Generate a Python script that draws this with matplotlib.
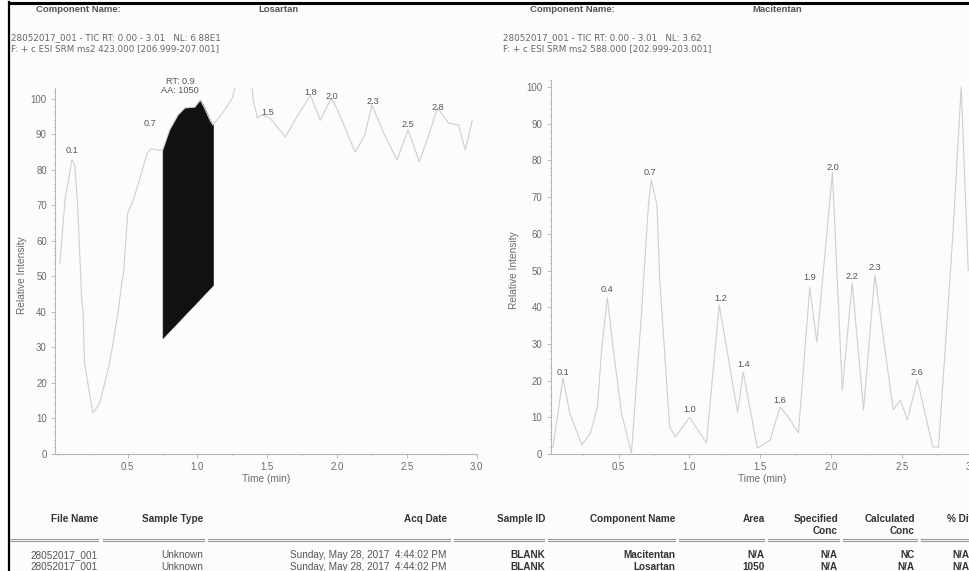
import numpy as np
import matplotlib
matplotlib.use('Agg')
import matplotlib.pyplot as plt
from matplotlib.ticker import MultipleLocator, FixedLocator

plt.rcParams['font.family'] = ['Liberation Sans', 'DejaVu Sans']

# ---------------- data ----------------
# Losartan trace (time min, relative intensity)
los_t = [0.014, 0.05, 0.10, 0.12, 0.14, 0.17, 0.18, 0.19, 0.25, 0.30, 0.37, 0.43, 0.46, 0.47,
         0.50, 0.54, 0.59, 0.64, 0.67, 0.71, 0.75, 0.80, 0.86, 0.91, 0.98, 1.02, 1.05, 1.09,
         1.11, 1.18, 1.25, 1.30, 1.38, 1.40, 1.43, 1.46, 1.52, 1.63, 1.72, 1.81, 1.88, 1.96,
         2.02, 2.13, 2.20, 2.25, 2.34, 2.43, 2.51, 2.59, 2.67, 2.72, 2.80, 2.87, 2.92, 2.97]
los_i = [53.8, 71.5, 82.8, 81.4, 70.7, 43.4, 39.7, 25.6, 11.5, 14.4, 25.6, 39.7, 49.0, 51.0,
         67.9, 71.5, 78.0, 84.8, 86.0, 85.6, 85.6, 91.3, 95.5, 97.5, 97.7, 99.7, 97.5, 94.0,
         92.7, 96.0, 100.3, 108.0, 108.0, 99.7, 94.6, 95.5, 94.6, 89.3, 95.5, 101.0, 94.0, 100.3,
         95.5, 85.0, 89.9, 98.3, 89.9, 82.8, 91.3, 82.3, 91.3, 97.5, 93.2, 92.7, 85.6, 94.0]
# integrated peak (start/end time, baseline intensity)
los_peak_t = [0.75, 1.11]
los_peak_base = [32.7, 47.6]
los_peak_rt = "0.9"
los_peak_area = "1050"
los_lab = ["0.1", "0.7", "1.5", "1.8", "2.0", "2.3", "2.5", "2.8"]
los_lab_t = [0.10, 0.66, 1.50, 1.81, 1.96, 2.26, 2.51, 2.72]
los_lab_i = [85.6, 93.2, 96.3, 101.7, 100.6, 99.2, 92.7, 97.7]

# Macitentan trace
mac_t = [0.035, 0.07, 0.106, 0.155, 0.24, 0.30, 0.35, 0.38, 0.42, 0.46, 0.52, 0.59, 0.66, 0.71,
         0.73, 0.77, 0.79, 0.86, 0.90, 1.00, 1.12, 1.21, 1.34, 1.38, 1.48, 1.57, 1.64, 1.70,
         1.77, 1.85, 1.90, 2.01, 2.08, 2.15, 2.23, 2.31, 2.44, 2.49, 2.54, 2.61, 2.72, 2.76,
         2.86, 2.92, 2.97]
mac_i = [1.9, 11.0, 20.7, 11.0, 2.5, 5.7, 12.8, 29.0, 42.5, 29.0, 11.0, 0.3, 38.0, 68.0,
         74.7, 68.0, 47.4, 7.4, 4.6, 10.0, 3.0, 40.6, 11.4, 22.3, 1.6, 3.8, 12.8, 10.0,
         5.7, 45.5, 30.5, 76.6, 17.4, 46.6, 12.0, 48.8, 12.0, 14.7, 9.3, 20.2, 1.9, 1.9,
         59.0, 100.0, 50.0]
mac_lab = ["0.1", "0.4", "0.7", "1.0", "1.2", "1.4", "1.6", "1.9", "2.0", "2.2", "2.3", "2.6"]
mac_lab_t = [0.106, 0.42, 0.72, 1.00, 1.22, 1.38, 1.64, 1.85, 2.01, 2.15, 2.31, 2.61]
mac_lab_i = [22.3, 44.7, 76.6, 12.0, 42.5, 24.3, 14.7, 48.0, 78.2, 48.5, 50.7, 22.1]

x_ticks = [0.5, 1.0, 1.5, 2.0, 2.5, 3.0]
y_ticks = [0, 10, 20, 30, 40, 50, 60, 70, 80, 90, 100]

headers = ["File Name", "Sample Type", "Acq Date", "Sample ID", "Component Name",
           "Area", "Specified\nConc", "Calculated\nConc", "% Diff"]
row1 = ["28052017_001", "Unknown", "Sunday, May 28, 2017  4:44:02 PM", "BLANK", "Macitentan",
        "N/A", "N/A", "NC", "N/A"]
row2 = ["28052017_001", "Unknown", "Sunday, May 28, 2017  4:44:02 PM", "BLANK", "Losartan",
        "1050", "N/A", "N/A", "N/A"]

# ---------------- layout ----------------
W, H = 970, 571
fig = plt.figure(figsize=(W / 100, H / 100), dpi=100)
fig.patch.set_facecolor('#fcfcfa')

def fx(px):
    return px / W

def fy(py):
    return 1 - py / H

def ftext(px, py, s, **kw):
    kw.setdefault('va', 'center')
    fig.text(fx(px), fy(py), s, **kw)

CURVE = '#cfcfcf'
TXT = '#6a6a6a'

def style_axes(ax, ylim):
    ax.set_facecolor('none')
    for s in ['top', 'right']:
        ax.spines[s].set_visible(False)
    for s in ['left', 'bottom']:
        ax.spines[s].set_color('#b5b5b5')
        ax.spines[s].set_linewidth(0.8)
    ax.set_ylim(*ylim)
    ax.xaxis.set_major_locator(FixedLocator(x_ticks))
    ax.xaxis.set_minor_locator(MultipleLocator(0.25))
    ax.yaxis.set_major_locator(FixedLocator(y_ticks))
    ax.yaxis.set_minor_locator(MultipleLocator(2))
    ax.set_xticklabels([f"{v:.1f}" for v in x_ticks])
    ax.tick_params(which='major', length=3, width=0.6, color='#b0b0b0',
                   labelsize=6.9, labelcolor=TXT, pad=3)
    ax.tick_params(which='minor', length=1.5, width=0.5, color='#c0c0c0')
    ax.set_xlabel("Time (min)", fontsize=7.3, color=TXT, labelpad=1)
    ax.set_ylabel("Relative Intensity", fontsize=7.3, color=TXT, labelpad=6)

# left axes (Losartan)
l_left = 55.2; l_right = 476.5; l_bot = 454; l_top = 88.3
axL = fig.add_axes([fx(l_left), fy(l_bot), (l_right - l_left) / W, (l_bot - l_top) / H])
axL.set_xlim(-0.02, 3.0)
style_axes(axL, (0, 103))
axL.plot(los_t, los_i, color=CURVE, lw=0.8)
t_arr = np.array(los_t)
i_arr = np.array(los_i)
m = (t_arr >= los_peak_t[0]) & (t_arr <= los_peak_t[1])
base = np.interp(t_arr[m], los_peak_t, los_peak_base)
axL.fill_between(t_arr[m], base, i_arr[m], color='#111111', lw=0.5)
for s, t, v in zip(los_lab, los_lab_t, los_lab_i):
    axL.text(t, v, s, fontsize=6.6, color='#555555', ha='center', va='center', clip_on=False)
axL.text(0.875, 105.0, f"RT: {los_peak_rt}", fontsize=6.6, color='#555555', ha='center',
         va='center', clip_on=False)
axL.text(0.875, 102.4, f"AA: {los_peak_area}", fontsize=6.6, color='#555555', ha='center',
         va='center', clip_on=False)
axL.yaxis.set_label_coords(-0.068, 0.49)

# right axes (Macitentan)
r_left = 550.8; r_right = 972.5; r_bot = 454; r_top = 79.7
axR = fig.add_axes([fx(r_left), fy(r_bot), (r_right - r_left) / W, (r_bot - r_top) / H])
axR.set_xlim(0.02, 3.0)
style_axes(axR, (0, 102))
axR.plot(mac_t, mac_i, color=CURVE, lw=0.8)
for s, t, v in zip(mac_lab, mac_lab_t, mac_lab_i):
    axR.text(t, v, s, fontsize=6.6, color='#555555', ha='center', va='center', clip_on=False)
axR.yaxis.set_label_coords(-0.075, 0.49)

# ---------------- header texts ----------------
ftext(36, 9, "Component Name:", fontsize=6.8, fontweight='bold', color='#555555')
ftext(258, 9, "Losartan", fontsize=6.8, fontweight='bold', color='#555555')
ftext(530, 9, "Component Name:", fontsize=6.8, fontweight='bold', color='#555555')
ftext(752, 9, "Macitentan", fontsize=6.8, fontweight='bold', color='#555555')

INFO = dict(fontsize=6.3, color='#666666', family=['DejaVu Sans'])
ftext(11, 38, "28052017_001 - TIC RT: 0.00 - 3.01   NL: 6.88E1", **INFO)
ftext(11, 48.5, "F: + c ESI SRM ms2 423.000 [206.999-207.001]", **INFO)
ftext(503, 38, "28052017_001 - TIC RT: 0.00 - 3.01   NL: 3.62", **INFO)
ftext(503, 48.5, "F: + c ESI SRM ms2 588.000 [202.999-203.001]", **INFO)

# border lines
fig.add_artist(plt.Line2D([fx(9.5), fx(9.5)], [fy(2), fy(571)], color='black', lw=1.6))
fig.add_artist(plt.Line2D([fx(9), fx(970)], [fy(2.5), fy(2.5)], color='black', lw=2.2))

# ---------------- table ----------------
col_right = [98, 203, 447, 545, 675, 765, 838, 915, 975]
seg = [(10, 98), (103, 204), (208, 450), (454, 544), (548, 675), (679, 764),
       (768, 839), (843, 917), (921, 975)]
bold_cols = {3, 4, 5, 6, 7, 8}
HF = 7.2
for j, h in enumerate(headers):
    if '\n' in h:
        a, b = h.split('\n')
        ftext(col_right[j], 519, a, fontsize=HF, fontweight='bold', color='#333333', ha='right')
        ftext(col_right[j], 531, b, fontsize=HF, fontweight='bold', color='#333333', ha='right')
    else:
        ftext(col_right[j], 519, h, fontsize=HF, fontweight='bold', color='#333333', ha='right')
for a, b in seg:
    for yy in (539.2, 541.2):
        fig.add_artist(plt.Line2D([fx(a), fx(b)], [fy(yy), fy(yy)], color='#9a9a9a', lw=0.8))
for r, row in enumerate([row1, row2]):
    yy = 555 + r * 11.5
    for j, v in enumerate(row):
        ftext(col_right[j] - (5 if j == 8 else 0), yy, v, fontsize=7.2,
              fontweight='bold' if j in bold_cols else 'normal',
              color='#333333' if j in bold_cols else '#555555', ha='right')

fig.savefig('out.png', dpi=100, facecolor=fig.get_facecolor())
